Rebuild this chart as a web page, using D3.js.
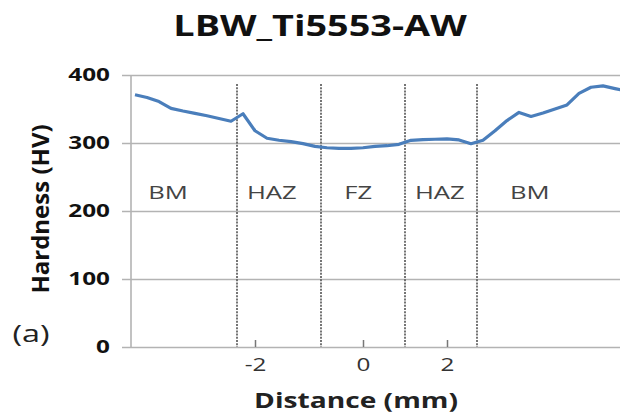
<!DOCTYPE html>
<html>
<head>
<meta charset="utf-8">
<script src="https://cdn.jsdelivr.net/npm/d3@7"></script>
<style>
  html, body { margin: 0; padding: 0; background: #fff; }
  svg { display: block; }
  text { font-family: "Open Sans", "DejaVu Sans", sans-serif; }
</style>
</head>
<body>
<svg id="chart" width="620" height="419"></svg>
<script>
// Microhardness traverse across the laser weld, one sample per category slot
const sampleIndex = d3.range(42);
const hardness = [
  371, 367, 361, 351, 347, 343.5, 340, 336, 332, 343,
  318, 307, 304, 302, 299, 295, 293, 292, 292, 293,
  295, 296, 298, 304, 305, 305.5, 306, 304.5, 299, 304,
  318, 333, 345, 339, 344, 350, 356, 373, 382, 384,
  380, 376
];

// Distance labels shown on the category axis and the samples they sit under
const tickLabels = ["-2", "0", "2"];
const tickSamples = [10, 19, 26];

// Zone boundaries (between samples) and zone names
const zoneBounds = [8.5, 15.5, 22.5, 28.5];
const zoneNames = ["BM", "HAZ", "FZ", "HAZ", "BM"];

const yTicks = [0, 100, 200, 300, 400];

// ---- layout ----
const W = 620, H = 419;
const plot = { left: 131, right: 620, top: 75, bottom: 347 };
const zoneLabelAt = [2.75, 11.4, 18.6, 25.4, 32.9];
const SX = 1.35; // the figure's text is set wide: horizontal glyph stretch

const svg = d3.select("#chart");

const x = d3.scaleLinear().domain([0, 40]).range([135, 615]);
const y = d3.scaleLinear().domain([0, 400]).range([plot.bottom, plot.top]);

// stretched text helper: anchor point (px, py), glyphs widened by sx
function wideText(parent, px, py, str, size, weight, fill, sx) {
  return parent.append("text")
    .attr("transform", `translate(${px},${py}) scale(${sx || SX},1)`)
    .attr("text-anchor", "middle")
    .attr("font-size", size)
    .attr("font-weight", weight || 400)
    .attr("fill", fill || "#222")
    .text(str);
}

// horizontal gridlines + y axis labels
const yPad = 21;
const yAxis = d3.axisLeft(y).tickValues(yTicks).tickSize(plot.left - W).tickPadding(yPad);
const gy = svg.append("g").attr("transform", `translate(${plot.left},0)`).call(yAxis);
gy.select(".domain").remove();
gy.selectAll(".tick line")
  .attr("x1", -9)
  .attr("stroke", "#b3b3b3").attr("stroke-width", 1.6);
gy.selectAll(".tick text")
  .attr("x", -yPad / SX)
  .attr("transform", `scale(${SX},1)`)
  .attr("font-size", 18).attr("font-weight", 700).attr("fill", "#111")
  .attr("font-family", "'Open Sans', sans-serif");

// vertical axis line
svg.append("line")
  .attr("x1", plot.left).attr("x2", plot.left)
  .attr("y1", plot.top).attr("y2", plot.bottom)
  .attr("stroke", "#b3b3b3").attr("stroke-width", 1.6);

// zone boundary dotted lines
svg.append("g").selectAll("line").data(zoneBounds).join("line")
  .attr("x1", d => x(d)).attr("x2", d => x(d))
  .attr("y1", 84).attr("y2", plot.bottom)
  .attr("stroke", "#3a3a3a").attr("stroke-width", 1.4)
  .attr("stroke-dasharray", "2,1.2");

// x axis: short ticks above the baseline with distance labels below
const xAxis = d3.axisBottom(x)
  .tickValues(tickSamples)
  .tickFormat((d, i) => tickLabels[i])
  .tickSize(-7).tickPadding(11);
const gx = svg.append("g").attr("transform", `translate(0,${plot.bottom})`).call(xAxis);
gx.select(".domain").remove();
gx.selectAll(".tick line").attr("stroke", "#777").attr("stroke-width", 1.5);
gx.selectAll(".tick text")
  .attr("transform", `scale(${SX},1)`)
  .attr("font-size", 18).attr("fill", "#333")
  .attr("font-family", "'Open Sans', sans-serif");

// zone names
const gz = svg.append("g");
zoneNames.forEach((name, i) => {
  wideText(gz, x(zoneLabelAt[i]), 199, name, 19, 400, "#444");
});

// hardness profile
const line = d3.line()
  .x((d, i) => x(sampleIndex[i]))
  .y(d => y(d))
  .curve(d3.curveLinear);

svg.append("path")
  .datum(hardness)
  .attr("d", line)
  .attr("fill", "none")
  .attr("stroke", "#4a7ebb")
  .attr("stroke-width", 3.2)
  .attr("stroke-linejoin", "round");

// titles
wideText(svg, 320, 36, "LBW_Ti5553-AW", 28, 700, "#111");

svg.append("text")
  .attr("transform", "translate(49,209) rotate(-90)")
  .attr("text-anchor", "middle")
  .attr("font-size", 24).attr("font-weight", 700).attr("fill", "#111")
  .text("Hardness (HV)");

wideText(svg, 356, 408, "Distance (mm)", 22, 700, "#222", 1.28);

wideText(svg, 31, 342, "(a)", 24, 400, "#222");
</script>
</body>
</html>
